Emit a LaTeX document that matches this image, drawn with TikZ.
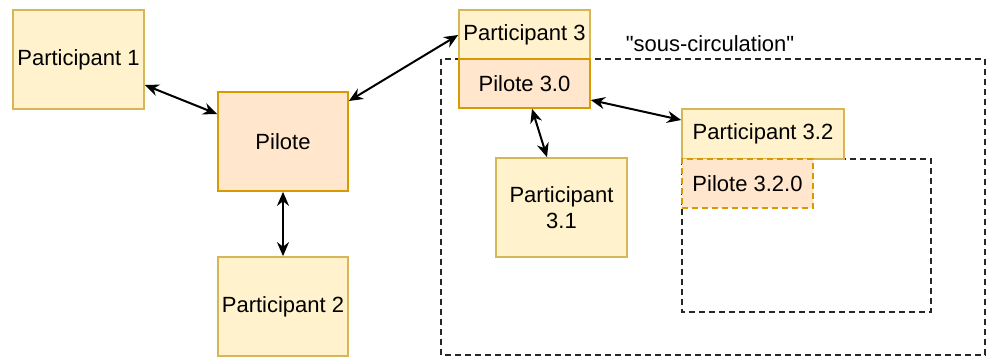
\documentclass[tikz,border=0pt]{standalone}
\usepackage{fontspec}
\setmainfont{Liberation Sans}
\newfontfamily\qfont{Liberation Sans}
\usetikzlibrary{arrows.meta,calc}
\definecolor{partfill}{HTML}{FFF2CC}
\definecolor{partdraw}{HTML}{D6B656}
\definecolor{pilfill}{HTML}{FFE6CC}
\definecolor{pildraw}{HTML}{D79B00}
\begin{document}
\begin{tikzpicture}[x=1pt,y=-1pt,
  box/.style={line width=1.7pt, font=\fontsize{22}{26}\selectfont, align=center, inner sep=0pt, anchor=center},
  part/.style={box, draw=partdraw, fill=partfill},
  pil/.style={box, draw=pildraw, fill=pilfill},
  link/.style={line width=2pt, {Stealth[length=14pt,width=12pt]}-{Stealth[length=14pt,width=12pt]}},
  dashbox/.style={draw=black!85, line width=1.6pt, dash pattern=on 6pt off 4pt}]
\useasboundingbox (0,0) rectangle (986,359);
% dashed regions
\draw[dashbox] (441,59) rectangle (985,355);
\draw[dashbox] (682,159) rectangle (931,312);
% nodes
\node[part, minimum width=131pt, minimum height=99pt] (p1) at (78.5,59.5) {Participant 1};
\node[pil, minimum width=130pt, minimum height=99pt] (pil) at (283,141.5) {Pilote};
\node[part, minimum width=130pt, minimum height=99pt] (p2) at (283,306.5) {Participant 2};
\node[part, minimum width=131pt, minimum height=49pt] (p3) at (524.5,34.5) {Participant 3};
\node[pil, minimum width=131pt, minimum height=49pt] (pil3) at (524.5,83.5) {Pilote 3.0};
\node[part, minimum width=131pt, minimum height=99pt] (p31) at (561.5,207.5) {Participant\\3.1};
\node[part, minimum width=162pt, minimum height=50pt] (p32) at (763,134) {Participant 3.2};
\node[pil, dash pattern=on 6pt off 4pt, minimum width=131pt, minimum height=49pt] (pil320) at (747.5,183.5) {Pilote 3.2.0};
\node[font=\qfont\fontsize{22}{26}\selectfont, inner sep=0pt] (sc) at (710,44) {"sous-circulation"};
% connectors
\draw[link] ($(p1.east)+(0,25.5)$) -- ($(pil.west)+(0,-27.5)$);
\draw[link] ($(pil.east)+(0,-40.5)$) -- ($(p3.west)+(0,0.5)$);
\draw[link] (pil.south) -- (p2.north);
\draw[link] ($(pil3.south)+(7.5,0)$) -- ($(p31.north)+(-14.5,0)$);
\draw[link] ($(pil3.east)+(0,16.5)$) -- ($(p32.west)+(0,-14)$);
\end{tikzpicture}
\end{document}
